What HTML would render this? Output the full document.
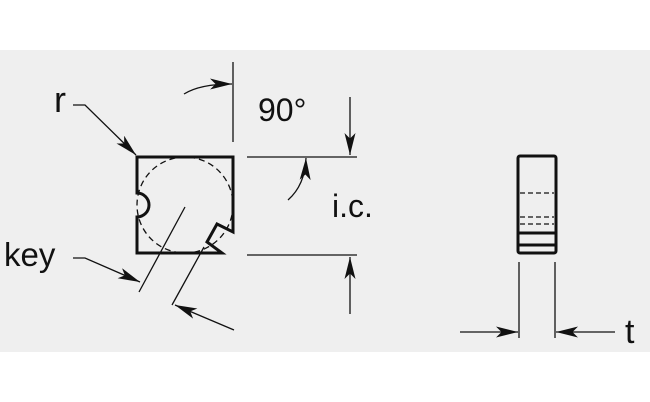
<!DOCTYPE html>
<html><head><meta charset="utf-8"><style>
html,body{margin:0;padding:0;background:#fff;}
svg{display:block;}
text{font-family:"Liberation Sans",sans-serif;fill:#111;}
</style></head><body>
<svg width="650" height="402" viewBox="0 0 650 402" xmlns="http://www.w3.org/2000/svg">
<defs>
<marker id="a" viewBox="0 0 20 10" refX="20" refY="5" markerWidth="22" markerHeight="11" markerUnits="userSpaceOnUse" orient="auto">
<path d="M0,0 L20,5 L0,10 L5,5 Z" fill="#111"/>
</marker>
</defs>
<rect x="0" y="50" width="650" height="302" fill="#efefef"/>
<g stroke="#111" fill="none">
<circle cx="185" cy="205" r="48" stroke-width="1.3" stroke-dasharray="6,4"/>
<path d="M137,157 L233,157 L233,232 L217,224 L207,242 L222,253 L137,253 L137,217 A12,12 0 0 0 137,193 Z" stroke-width="3" fill="none" stroke-linejoin="miter"/>
<path d="M73,105 L85,105 L136,155" stroke-width="1.3" marker-end="url(#a)"/>
<line x1="233" y1="62" x2="233" y2="142" stroke-width="1.3"/>
<path d="M184,94 Q200,84 232,84" stroke-width="1.3" marker-end="url(#a)"/>
<line x1="247" y1="157" x2="357" y2="157" stroke-width="1.3"/>
<line x1="247" y1="255" x2="357" y2="255" stroke-width="1.3"/>
<line x1="350" y1="97" x2="350" y2="155" stroke-width="1.3" marker-end="url(#a)"/>
<line x1="350" y1="314" x2="350" y2="257" stroke-width="1.3" marker-end="url(#a)"/>
<path d="M288,200 Q305,185 306,158" stroke-width="1.3" marker-end="url(#a)"/>
<path d="M73,258 L85,258 L140,282" stroke-width="1.3" marker-end="url(#a)"/>
<line x1="185" y1="207" x2="139" y2="292" stroke-width="1.3"/>
<line x1="204" y1="247" x2="172" y2="305" stroke-width="1.3"/>
<line x1="234" y1="330" x2="175" y2="305" stroke-width="1.3" marker-end="url(#a)"/>
<rect x="518" y="156" width="38" height="97" rx="2" stroke-width="3"/>
<line x1="520" y1="193" x2="554" y2="193" stroke-width="1.3" stroke-dasharray="5,3"/>
<line x1="520" y1="217" x2="554" y2="217" stroke-width="1.3" stroke-dasharray="5,3"/>
<line x1="520" y1="224" x2="554" y2="224" stroke-width="1.3" stroke-dasharray="5,3"/>
<line x1="518" y1="233" x2="556" y2="233" stroke-width="3"/>
<line x1="518" y1="245" x2="556" y2="245" stroke-width="3"/>
<line x1="519" y1="262" x2="519" y2="338" stroke-width="1.3"/>
<line x1="555" y1="262" x2="555" y2="338" stroke-width="1.3"/>
<line x1="460" y1="332" x2="518" y2="332" stroke-width="1.3" marker-end="url(#a)"/>
<line x1="615" y1="332" x2="556" y2="332" stroke-width="1.3" marker-end="url(#a)"/>
</g>
<text x="54" y="112" font-size="36">r</text>
<text x="258" y="121" font-size="32">90°</text>
<text x="332" y="217" font-size="32">i.c.</text>
<text x="4" y="266" font-size="33">key</text>
<text x="625" y="343" font-size="34">t</text>
</svg>
</body></html>
